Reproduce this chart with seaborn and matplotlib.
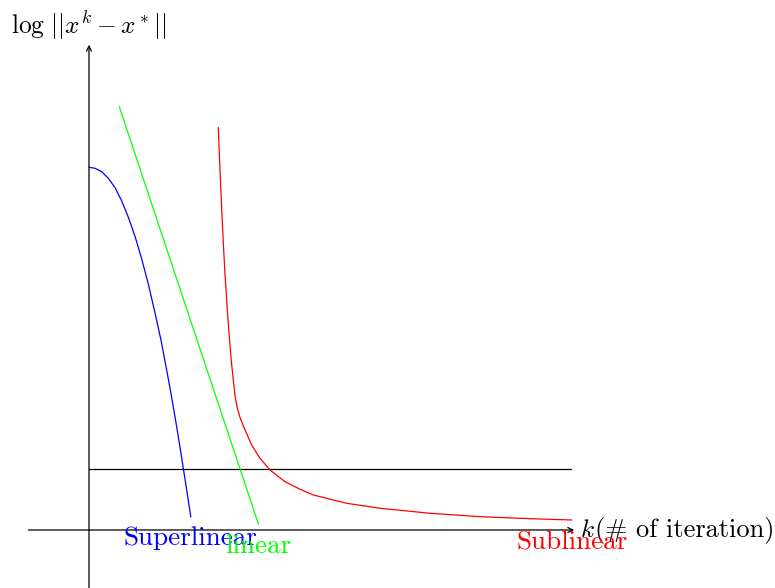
import matplotlib
matplotlib.use("Agg")
import matplotlib.pyplot as plt
import seaborn as sns
import pandas as pd

# ---- data (in axis units) ----
super_x = [0.0, 0.099, 0.210, 0.319, 0.430, 0.540, 0.650, 0.760, 0.871, 0.980,
           1.091, 1.190, 1.279, 1.350, 1.426, 1.493, 1.559, 1.633, 1.683]
super_y = [5.995, 5.979, 5.922, 5.813, 5.660, 5.440, 5.170, 4.855, 4.480, 4.068,
           3.588, 3.138, 2.670, 2.285, 1.845, 1.440, 1.020, 0.545, 0.215]

linear_x = [0.5, 2.8]
linear_y = [7.0, 0.1]

sub_x = [2.137, 2.165, 2.193, 2.220, 2.248, 2.289, 2.331, 2.359, 2.413, 2.455,
         2.496, 2.579, 2.689, 2.826, 2.992, 3.240, 3.488, 3.707, 4.260, 4.810,
         5.636, 6.463, 7.289, 7.979]
sub_y = [6.656, 5.956, 5.312, 4.745, 4.227, 3.591, 3.045, 2.723, 2.220, 2.000,
         1.860, 1.653, 1.405, 1.185, 0.992, 0.798, 0.673, 0.579, 0.441, 0.359,
         0.276, 0.220, 0.187, 0.165]

ref_x = [0.0, 7.97]
ref_y = [1.0, 1.0]

labels = ["Superlinear", "linear", "Sublinear"]
ylabel_text = r"$\log\,||x^k - x^*||$"
xlabel_text = "(# of iteration)"

# ---- figure ----
sns.set_style("white")
plt.rcParams["mathtext.fontset"] = "cm"
fig = plt.figure(figsize=(7.75, 5.88), dpi=100)
ax = fig.add_axes([0, 0, 1, 1])
ax.set_xlim(-1.471, 11.339)
ax.set_ylim(-0.959, 8.760)
ax.axis("off")

lw = 0.9
df_s = pd.DataFrame({"x": super_x, "y": super_y})
df_l = pd.DataFrame({"x": linear_x, "y": linear_y})
df_r = pd.DataFrame({"x": sub_x, "y": sub_y})
df_h = pd.DataFrame({"x": ref_x, "y": ref_y})

sns.lineplot(data=df_h, x="x", y="y", sort=False, estimator=None, color="black", lw=lw, ax=ax)
sns.lineplot(data=df_s, x="x", y="y", sort=False, estimator=None, color="#0000ff", lw=lw, ax=ax)
sns.lineplot(data=df_l, x="x", y="y", sort=False, estimator=None, color="#00ff00", lw=lw, ax=ax)
sns.lineplot(data=df_r, x="x", y="y", sort=False, estimator=None, color="#ff0000", lw=lw, ax=ax)

# axes with arrows
arrow = dict(arrowstyle="->", color="black", lw=lw, mutation_scale=9, shrinkA=0, shrinkB=0)
ax.annotate("", xy=(8.02, 0), xytext=(-1.0, 0), arrowprops=arrow)
ax.annotate("", xy=(0, 8.02), xytext=(0, -1.0), arrowprops=arrow)

fs_math = 18.3
fs = 19.5
ax.text(0.0, 8.21, ylabel_text, ha="center", va="baseline", fontsize=fs_math, color="black")
ax.text(8.12, -0.11, r"$k$", ha="left", va="baseline", fontsize=fs_math, color="black")
ax.text(8.37, -0.11, xlabel_text, ha="left", va="baseline", fontsize=19, color="black", family="cmr10")

ax.text(super_x[-1], -0.248, labels[0], ha="center", va="baseline", fontsize=fs, color="#0000ff", family="cmr10")
ax.text(linear_x[-1], -0.38, labels[1], ha="center", va="baseline", fontsize=fs, color="#00ff00", family="cmr10")
ax.text(sub_x[-1], -0.33, labels[2], ha="center", va="baseline", fontsize=fs, color="#ff0000", family="cmr10")

fig.savefig("out.png", dpi=100)
